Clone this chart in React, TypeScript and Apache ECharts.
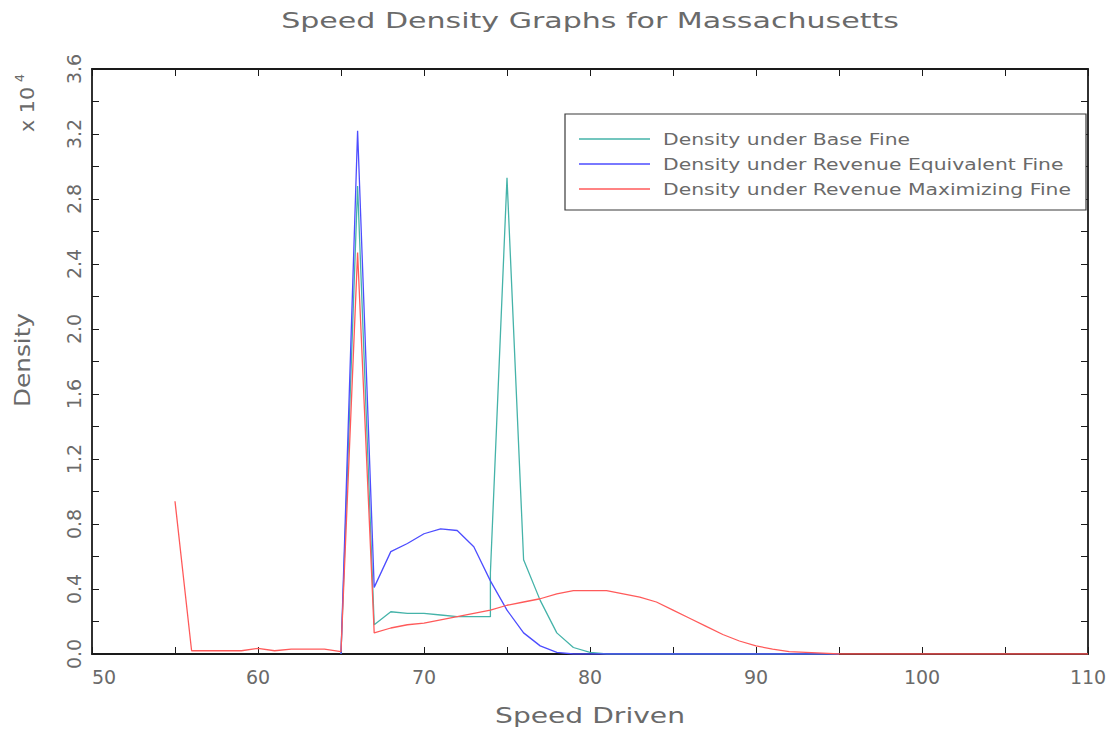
import { useEffect, useRef } from "react";
import * as echarts from "echarts";

const chartTitle = "Speed Density Graphs for Massachusetts";
const xAxisName = "Speed Driven";
const yAxisName = "Density";
const yScaleNote = "x 10";
const yScaleExponent = "4";

const seriesNames = [
  "Density under Base Fine",
  "Density under Revenue Equivalent Fine",
  "Density under Revenue Maximizing Fine",
];
const seriesColors = ["#45b3a9", "#4d4dff", "#ff5a5a"];

// Base fine (the schedule steps up at 74 mph, so that speed appears twice)
const baseSpeeds = [
  65, 66, 67, 68, 69, 70, 71, 72, 73, 74, 74, 75, 76, 77, 78, 79, 80, 81, 82, 83,
  84, 85, 86, 87, 88, 89, 90, 91, 92, 93, 94, 95,
];
const baseDensity = [
  0, 2.88, 0.18, 0.26, 0.25, 0.25, 0.24, 0.23, 0.23, 0.23, 0.5, 2.93, 0.58, 0.33,
  0.13, 0.04, 0.01, 0, 0, 0, 0, 0, 0, 0, 0, 0, 0, 0, 0, 0, 0, 0,
];

// Revenue equivalent fine
const equivSpeeds = [
  65, 66, 67, 68, 69, 70, 71, 72, 73, 74, 75, 76, 77, 78, 79, 80, 81, 82, 83, 84,
  85, 86, 87, 88, 89, 90, 91, 92, 93, 94, 95,
];
const equivDensity = [
  0, 3.22, 0.41, 0.63, 0.68, 0.74, 0.77, 0.76, 0.66, 0.45, 0.27, 0.13, 0.05, 0.01,
  0, 0, 0, 0, 0, 0, 0, 0, 0, 0, 0, 0, 0, 0, 0, 0, 0,
];

// Revenue maximizing fine
const maxSpeeds = [
  55, 56, 57, 58, 59, 60, 61, 62, 63, 64, 65, 66, 67, 68, 69, 70, 71, 72, 73, 74,
  75, 76, 77, 78, 79, 80, 81, 82, 83, 84, 85, 86, 87, 88, 89, 90, 91, 92, 93, 94,
  95, 96, 97, 98, 99, 100, 101, 102, 103, 104, 105, 106, 107, 108, 109, 110,
];
const maxDensity = [
  0.94, 0.02, 0.02, 0.02, 0.02, 0.035, 0.02, 0.03, 0.03, 0.03, 0.015, 2.47, 0.13,
  0.16, 0.18, 0.19, 0.21, 0.23, 0.25, 0.27, 0.3, 0.32, 0.34, 0.37, 0.39, 0.39, 0.39,
  0.37, 0.35, 0.32, 0.27, 0.22, 0.17, 0.12, 0.08, 0.05, 0.03, 0.015, 0.01, 0.005,
  0, 0, 0, 0, 0, 0, 0, 0, 0, 0, 0, 0, 0, 0, 0, 0,
];

const speedSets = [baseSpeeds, equivSpeeds, maxSpeeds];
const densitySets = [baseDensity, equivDensity, maxDensity];

export default function App() {
  const ref = useRef<HTMLDivElement>(null);

  useEffect(() => {
    const el = ref.current;
    if (!el) return;
    const chart = echarts.init(el, null, { renderer: "svg" });

    const family = "'DejaVu Sans', sans-serif";
    const textColor = "#6a6a6a";
    const axisColor = "#1a1a1a";

    // Plotter lettering is wide; stretch labels horizontally to their span.
    const ctx = document.createElement("canvas").getContext("2d")!;
    const stretch = (text: string, size: number, width: number) => {
      ctx.font = `${size}px 'DejaVu Sans'`;
      const w = ctx.measureText(text).width;
      return w > 0 ? width / w : 1;
    };

    const axisParts = {
      axisLine: { show: true, onZero: false, lineStyle: { color: axisColor, width: 1.8 } },
      axisTick: { show: true, inside: true, length: 7, lineStyle: { color: axisColor, width: 1 } },
      minorTick: { show: true, splitNumber: 2, length: 7, lineStyle: { color: axisColor, width: 1 } },
      splitLine: { show: false },
      minorSplitLine: { show: false },
    };
    const tickFont = { fontSize: 19, fontFamily: family, color: textColor };

    const legendScale = stretch(seriesNames[2], 16, 408);
    const legendRows = [139, 164, 189];

    const graphic: any[] = [
      {
        type: "text",
        x: 590,
        y: 20,
        scaleX: stretch(chartTitle, 22, 618),
        style: {
          text: chartTitle,
          fontSize: 22,
          fontFamily: family,
          fill: textColor,
          align: "center",
          verticalAlign: "middle",
        },
      },
      {
        type: "text",
        x: 590,
        y: 716,
        scaleX: stretch(xAxisName, 22, 190),
        style: {
          text: xAxisName,
          fontSize: 22,
          fontFamily: family,
          fill: textColor,
          align: "center",
          verticalAlign: "middle",
        },
      },
      {
        type: "text",
        x: 22,
        y: 360,
        rotation: Math.PI / 2,
        scaleX: stretch(yAxisName, 22, 94),
        style: {
          text: yAxisName,
          fontSize: 22,
          fontFamily: family,
          fill: textColor,
          align: "center",
          verticalAlign: "middle",
        },
      },
      {
        type: "group",
        x: 28,
        y: 102,
        rotation: Math.PI / 2,
        children: [
          {
            type: "text",
            x: -7.5,
            y: 0,
            scaleX: stretch(yScaleNote, 19, 45),
            style: {
              text: yScaleNote,
              fontSize: 19,
              fontFamily: family,
              fill: textColor,
              align: "center",
              verticalAlign: "middle",
            },
          },
          {
            type: "text",
            x: 24,
            y: -9,
            style: {
              text: yScaleExponent,
              fontSize: 13,
              fontFamily: family,
              fill: textColor,
              align: "center",
              verticalAlign: "middle",
            },
          },
        ],
      },
      {
        type: "rect",
        shape: { x: 565, y: 114, width: 521, height: 96 },
        style: { fill: "#ffffff", stroke: "#3a3a3a", lineWidth: 1.2 },
        z: 10,
      },
      ...seriesNames.flatMap((name, i) => [
        {
          type: "line",
          shape: { x1: 579, y1: legendRows[i], x2: 650, y2: legendRows[i] },
          style: { stroke: seriesColors[i], lineWidth: 1.3 },
          z: 11,
        },
        {
          type: "text",
          x: 663,
          y: legendRows[i],
          scaleX: legendScale,
          z: 11,
          style: {
            text: name,
            fontSize: 16,
            fontFamily: family,
            fill: textColor,
            align: "left",
            verticalAlign: "middle",
          },
        },
      ]),
    ];

    chart.setOption({
      animation: false,
      backgroundColor: "#ffffff",
      grid: { left: 92, right: 29, top: 69, bottom: 80, containLabel: false },
      xAxis: [
        {
          type: "value",
          position: "bottom",
          min: 50,
          max: 110,
          interval: 10,
          ...axisParts,
          axisLabel: { ...tickFont, margin: 13, alignMinLabel: "left" },
        },
        {
          type: "value",
          position: "top",
          min: 50,
          max: 110,
          interval: 10,
          ...axisParts,
          axisLabel: { show: false },
        },
      ],
      yAxis: [
        {
          type: "value",
          position: "left",
          min: 0,
          max: 3.6,
          interval: 0.4,
          ...axisParts,
          axisLabel: {
            ...tickFont,
            rotate: 90,
            margin: 9,
            formatter: (v: number) => v.toFixed(1),
          },
        },
        {
          type: "value",
          position: "right",
          min: 0,
          max: 3.6,
          interval: 0.4,
          ...axisParts,
          axisLabel: { show: false },
        },
      ],
      series: seriesNames.map((name, i) => ({
        type: "line",
        name,
        xAxisIndex: 0,
        yAxisIndex: 0,
        data: speedSets[i].map((s, k) => [s, densitySets[i][k]]),
        symbol: "none",
        showSymbol: false,
        smooth: false,
        lineStyle: { color: seriesColors[i], width: 1.3 },
        itemStyle: { color: seriesColors[i] },
        z: 3,
      })),
      graphic,
    });

    return () => chart.dispose();
  }, []);

  return (
    <div
      ref={ref}
      style={{ position: "absolute", left: 0, top: 0, width: 1117, height: 734, background: "#fff" }}
    />
  );
}
